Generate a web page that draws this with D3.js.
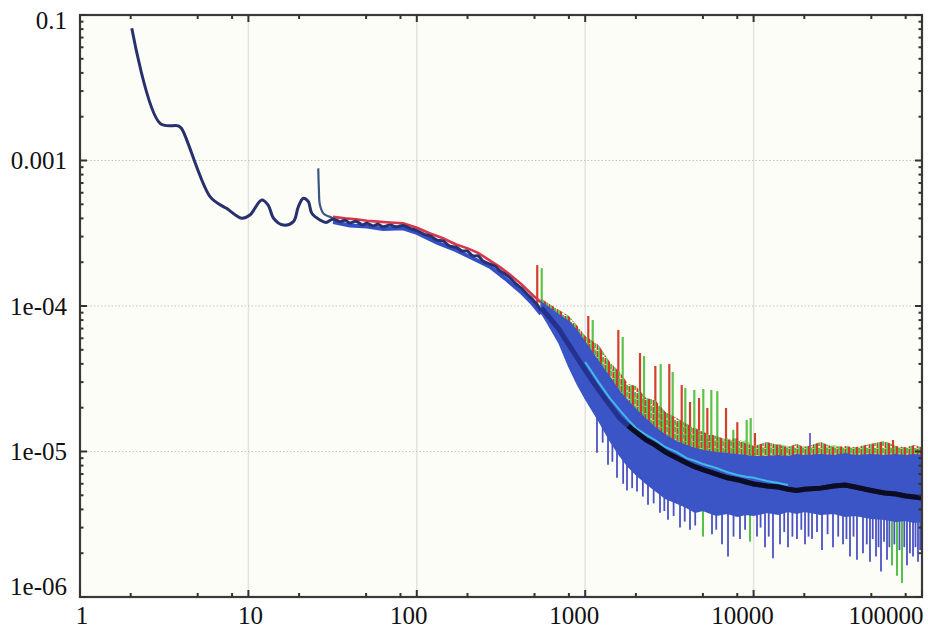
<!DOCTYPE html>
<html><head><meta charset="utf-8">
<script src="https://cdn.jsdelivr.net/npm/d3@7"></script>
<style>body{margin:0;background:#fff} text.lbl{font-family:"Liberation Serif","Times New Roman",Times,serif;font-size:25px;fill:#111}</style>
</head><body><svg id="chart" width="928" height="630"></svg>
<script>
// ---------------- DATA ----------------
const xTickValues = [1, 10, 100, 1000, 10000, 100000];
const xTickLabels = ["1", "10", "100", "1000", "10000", "100000"];
const yTickValues = [1e-2, 1e-3, 1e-4, 1e-5, 1e-6];
const yTickLabels = ["0.1", "0.001", "1e-04", "1e-05", "1e-06"];

// main low-frequency trace
const lowFreq = [2.03,2.99,3.83,4.01,5.92,7.10,7.43,9.12,10.2,12.0,13.1,14.1,16.1,18.5,19.8,21.2,22.7,23.8,26.6,28.9,31.8,35.0,37.5,40.1,43.6,47.3,50.6,55.0,58.8,63.0,69.3,75.2,82.8,91.1,100,110,120,132,143,157,171,186,199,216,231,247,272,291,312,334,358,388,416,451,490,525,560];
const lowVal = [8.1e-3,1.80e-3,1.73e-3,1.66e-3,5.64e-4,4.82e-4,4.69e-4,4.01e-4,4.22e-4,5.35e-4,4.94e-4,4.01e-4,3.60e-4,3.80e-4,4.82e-4,5.50e-4,5.21e-4,4.34e-4,3.90e-4,3.75e-4,3.95e-4,3.80e-4,3.88e-4,3.72e-4,3.82e-4,3.62e-4,3.70e-4,3.55e-4,3.65e-4,3.50e-4,3.60e-4,3.50e-4,3.58e-4,3.42e-4,3.30e-4,3.12e-4,3.03e-4,2.84e-4,2.80e-4,2.58e-4,2.54e-4,2.39e-4,2.39e-4,2.21e-4,2.21e-4,2.04e-4,1.94e-4,1.88e-4,1.74e-4,1.66e-4,1.56e-4,1.42e-4,1.33e-4,1.21e-4,1.10e-4,1.00e-4,8.8e-5];

// red trace (low part)
const redLowFreq = [31.8,37.5,43.6,50.6,58.8,69.3,82.8,100.3,120,143,171,199,231,272,312,358,416,490,546];
const redLowVal = [4.1e-4,4.0e-4,3.95e-4,3.85e-4,3.8e-4,3.75e-4,3.7e-4,3.45e-4,3.15e-4,2.92e-4,2.65e-4,2.5e-4,2.32e-4,2.05e-4,1.85e-4,1.64e-4,1.42e-4,1.18e-4,1.06e-4];

// blue trace (low part)
const blueLowFreq = [31.8,40.1,50.6,63.0,82.8,100.3,132,171,216,272,334,416,490,546];
const blueLowVal = [3.78e-4,3.58e-4,3.52e-4,3.38e-4,3.42e-4,3.18e-4,2.72e-4,2.42e-4,2.12e-4,1.86e-4,1.55e-4,1.25e-4,1.03e-4,8.8e-5];

// spur trace starting near 26
const spurFreq = [26.0,26.2,26.6,28.0,30.5,33];
const spurVal = [8.83e-4,6.5e-4,4.94e-4,4.3e-4,4.1e-4,3.9e-4];

// high-frequency noise band
const bandFreq = [550,600,700,800,900,1000,1200,1400,1600,1800,2000,2300,2600,3000,3500,4000,4500,5000,6000,7000,8000,9000,10000,12000,14000,16000,18000,20000,25000,30000,35000,40000,50000,60000,70000,80000,90000,100000];
const bandUpper = [1.05e-4,9.8e-5,8.6e-5,7.76e-5,6.63e-5,5.57e-5,4.12e-5,3.20e-5,2.56e-5,2.19e-5,1.93e-5,1.65e-5,1.45e-5,1.28e-5,1.16e-5,1.09e-5,1.04e-5,1.01e-5,9.76e-6,9.61e-6,9.46e-6,9.31e-6,9.17e-6,9.17e-6,9.31e-6,9.17e-6,9.46e-6,9.31e-6,9.46e-6,9.31e-6,9.61e-6,9.31e-6,9.46e-6,9.31e-6,9.46e-6,9.31e-6,9.46e-6,9.31e-6];
const bandLower = [9.0e-5,7.6e-5,5.6e-5,3.87e-5,2.91e-5,2.33e-5,1.65e-5,1.20e-5,9.46e-6,7.95e-6,7.00e-6,6.07e-6,5.44e-6,4.79e-6,4.43e-6,4.15e-6,3.84e-6,3.96e-6,3.66e-6,3.78e-6,3.60e-6,3.72e-6,3.66e-6,3.84e-6,3.72e-6,3.90e-6,3.78e-6,3.90e-6,3.72e-6,3.78e-6,3.60e-6,3.66e-6,3.49e-6,3.44e-6,3.33e-6,3.38e-6,3.28e-6,3.33e-6];
const bandMean = [9.7e-5,8.6e-5,6.9e-5,5.40e-5,4.39e-5,3.63e-5,2.65e-5,2.09e-5,1.70e-5,1.50e-5,1.36e-5,1.20e-5,1.11e-5,9.9e-6,9.02e-6,8.34e-6,7.83e-6,7.5e-6,7.0e-6,6.6e-6,6.4e-6,6.17e-6,5.98e-6,5.8e-6,5.7e-6,5.5e-6,5.4e-6,5.5e-6,5.6e-6,5.8e-6,5.89e-6,5.7e-6,5.4e-6,5.19e-6,5.1e-6,4.94e-6,4.86e-6,4.79e-6];
const redTop = [1.12e-4,1.05e-4,9.4e-5,8.54e-5,7.29e-5,6.22e-5,5.40e-5,4.12e-5,3.52e-5,2.91e-5,2.82e-5,2.33e-5,2.26e-5,1.87e-5,1.70e-5,1.55e-5,1.45e-5,1.36e-5,1.28e-5,1.20e-5,1.24e-5,1.13e-5,1.09e-5,1.16e-5,1.11e-5,1.07e-5,1.13e-5,1.07e-5,1.16e-5,1.07e-5,1.09e-5,1.07e-5,1.13e-5,1.18e-5,1.09e-5,1.07e-5,1.11e-5,1.07e-5];
const greenTop = [1.09e-4,1.02e-4,9.1e-5,8.14e-5,6.95e-5,5.84e-5,4.83e-5,3.87e-5,3.20e-5,2.82e-5,2.48e-5,2.26e-5,1.99e-5,1.81e-5,1.59e-5,1.55e-5,1.41e-5,1.36e-5,1.20e-5,1.24e-5,1.14e-5,1.20e-5,1.09e-5,1.07e-5,1.13e-5,1.09e-5,1.06e-5,1.09e-5,1.06e-5,1.11e-5,1.06e-5,1.07e-5,1.06e-5,1.06e-5,1.07e-5,1.06e-5,1.06e-5,1.04e-5];

// cyan trace
const cyanFreq = [1000,1200,1400,1600,1800,2000,2300,2600,3000,3500,4000,4500,5000,6000,7000,8000,9000,10000,12000,14000,16000];
const cyanVal = [4.12e-5,3.00e-5,2.33e-5,1.93e-5,1.65e-5,1.45e-5,1.30e-5,1.20e-5,1.07e-5,9.9e-6,9.0e-6,8.6e-6,8.2e-6,7.7e-6,7.2e-6,6.9e-6,6.7e-6,6.6e-6,6.27e-6,6.07e-6,5.89e-6];

// harmonic spikes
const redSpikeFreq = [519,1043,1573,2116,2609,3158,3742,4192,4741,5311,6858,8003,10190,14349,67270];
const redSpikeTop = [1.91e-4,8.54e-5,6.84e-5,4.75e-5,3.87e-5,3.99e-5,2.86e-5,2.19e-5,2.33e-5,1.99e-5,1.99e-5,1.59e-5,1.34e-5,1.11e-5,1.20e-5];
const greenSpikeFreq = [552,1108,1670,2235,2807,3308,3931,4446,5028,5609,6087,7576,9100,9612];
const greenSpikeTop = [1.82e-4,8.01e-5,6.12e-5,4.53e-5,3.99e-5,3.52e-5,2.73e-5,2.65e-5,2.69e-5,2.65e-5,2.60e-5,1.41e-5,1.65e-5,1.70e-5];
const blueSpikeFreq = [21620];
const blueSpikeTop = [1.34e-5];

// downward dips [frequency, lowest value]
const blueDips = [[1175,9.8e-6],[1270,1.15e-5],[1366,8.1e-6],[1450,8.5e-6],[1545,6.6e-6],[1680,6.0e-6],[1771,5.4e-6],[1900,5.6e-6],[2031,5.3e-6],[2200,4.9e-6],[2360,4.3e-6],[2550,4.4e-6],[2781,3.8e-6],[2950,3.9e-6],[3102,3.4e-6],[3350,3.6e-6],[3656,3.0e-6],[3900,3.3e-6],[4192,2.9e-6],[4500,3.1e-6],[5662,2.7e-6],[6000,2.9e-6],[6494,2.3e-6],[7047,1.9e-6],[7600,2.6e-6],[8301,2.5e-6],[8900,2.9e-6],[10476,2.6e-6],[11000,3.0e-6],[11688,2.2e-6],[12300,2.6e-6],[13036,1.85e-6],[14349,2.3e-6],[15200,2.8e-6],[16006,2.2e-6],[17000,2.6e-6],[18096,2.5e-6],[19200,2.9e-6],[20196,2.3e-6],[21200,2.6e-6],[22228,2.5e-6],[23800,2.8e-6],[25484,2.1e-6],[27500,2.7e-6],[29612,2.2e-6],[31800,2.6e-6],[33958,2.3e-6],[35600,2.5e-6],[37360,1.9e-6],[39200,2.6e-6],[41112,1.8e-6],[44620,2.0e-6],[47000,2.3e-6],[49110,1.75e-6],[51000,2.5e-6],[53320,1.9e-6],[55200,2.2e-6],[57090,1.5e-6],[59500,2.4e-6],[61970,1.8e-6],[64000,2.2e-6],[68500,2.3e-6],[73500,2.1e-6],[78500,2.2e-6],[81440,1.65e-6],[84800,2.0e-6],[88430,1.9e-6],[91500,2.2e-6],[94670,1.75e-6],[97500,2.1e-6]];
const greenDips = [[5007,2.6e-6],[9520,2.4e-6],[66360,1.65e-6],[71050,1.4e-6],[76070,1.25e-6]];

// ---------------- LAYOUT ----------------
const W = 928, H = 630;
const M = {left: 80, top: 15, right: 6, bottom: 33};
const svg = d3.select("#chart");
const x = d3.scaleLog().domain([1, 1e5]).range([M.left, W - M.right]);
const y = d3.scaleLog().domain([1e-6, 1e-2]).range([H - M.bottom, M.top]);
const x0 = x.range()[0], x1 = x.range()[1], y0 = y.range()[0], y1 = y.range()[1];

const defs = svg.append("defs");
defs.append("clipPath").attr("id", "clip").append("rect")
  .attr("x", x0).attr("y", y1).attr("width", x1 - x0).attr("height", y0 - y1);
// speckled red/green texture for the noise fuzz above the band
const pat = defs.append("pattern").attr("id", "fuzz").attr("patternUnits", "userSpaceOnUse")
  .attr("width", 8).attr("height", 7);
pat.append("rect").attr("x", 0).attr("width", 2.2).attr("height", 7).attr("fill", "#d4362a");
pat.append("rect").attr("x", 2.2).attr("width", 1.8).attr("height", 5).attr("fill", "#4cbd42");
pat.append("rect").attr("x", 4.6).attr("y", 1).attr("width", 1.8).attr("height", 6).attr("fill", "#cc3a2c");
pat.append("rect").attr("x", 6.4).attr("width", 1.6).attr("height", 7).attr("fill", "#58c24c");

svg.append("rect").attr("x", x0).attr("y", y1).attr("width", x1 - x0).attr("height", y0 - y1).attr("fill", "#fdfdf8");

// grid
const gridX = [10, 100, 1000, 10000];
const gridY = [1e-3, 1e-4, 1e-5];
svg.append("g").selectAll("line").data(gridX).join("line")
  .attr("x1", d => x(d)).attr("x2", d => x(d)).attr("y1", y1).attr("y2", y0)
  .attr("stroke", "#e2e2e0").attr("stroke-width", 1.5);
svg.append("g").selectAll("line").data(gridY).join("line")
  .attr("x1", x0).attr("x2", x1).attr("y1", d => y(d)).attr("y2", d => y(d))
  .attr("stroke", "#c4c4c4").attr("stroke-width", 1.2).attr("stroke-dasharray", "1.5,2");

const plot = svg.append("g").attr("clip-path", "url(#clip)");

function pts(fs, vs) { return fs.map((f, i) => [f, vs[i]]); }
const line = d3.line().x(d => x(d[0])).y(d => y(d[1]));
const smooth = d3.line().x(d => x(d[0])).y(d => y(d[1])).curve(d3.curveCatmullRom.alpha(0.5));

function interpLog(fs, vs, f) {
  const lf = Math.log10(f);
  for (let i = 0; i < fs.length - 1; i++) {
    const a = Math.log10(fs[i]), b = Math.log10(fs[i + 1]);
    if (lf >= a && lf <= b) {
      const t = (lf - a) / (b - a);
      return Math.pow(10, Math.log10(vs[i]) * (1 - t) + Math.log10(vs[i + 1]) * t);
    }
  }
  return lf < Math.log10(fs[0]) ? vs[0] : vs[vs.length - 1];
}

// spikes (under band)
function spikes(fs, tops, color, w) {
  plot.append("g").selectAll("line").data(fs).join("line")
    .attr("x1", d => x(d)).attr("x2", d => x(d))
    .attr("y1", (d, i) => y(tops[i]))
    .attr("y2", d => y(interpLog(bandFreq, bandMean, d)))
    .attr("stroke", color).attr("stroke-width", w);
}
spikes(redSpikeFreq, redSpikeTop, "#d2402c", 2.2);
spikes(greenSpikeFreq, greenSpikeTop, "#5cc24a", 2.2);
spikes(blueSpikeFreq, blueSpikeTop, "#7a6ad8", 2);

// dips
function dips(list, color, w) {
  plot.append("g").selectAll("line").data(list).join("line")
    .attr("x1", d => x(d[0])).attr("x2", d => x(d[0]))
    .attr("y1", d => y(d[1]))
    .attr("y2", d => y(interpLog(bandFreq, bandMean, d[0])))
    .attr("stroke", color).attr("stroke-width", w);
}
dips(greenDips, "#55c04a", 2);
dips(blueDips, "#4a52c4", 1.8);

// fuzz areas
const area = (top, bot) => d3.area().x(d => x(d)).y0((d, i) => y(bot[i])).y1((d, i) => y(top[i]));
plot.append("path").datum(bandFreq).attr("d", area(greenTop, bandMean)).attr("fill", "#52bf46").attr("opacity", 0.55);
plot.append("path").datum(bandFreq).attr("d", area(redTop, bandMean)).attr("fill", "url(#fuzz)");

// low traces
plot.append("path").datum(pts(blueLowFreq, blueLowVal)).attr("d", line)
  .attr("fill", "none").attr("stroke", "#3450c8").attr("stroke-width", 4);
plot.append("path").datum(pts(redLowFreq, redLowVal)).attr("d", line)
  .attr("fill", "none").attr("stroke", "#d8364a").attr("stroke-width", 2.6);
plot.append("path").datum(pts(spurFreq, spurVal)).attr("d", smooth)
  .attr("fill", "none").attr("stroke", "#3d5585").attr("stroke-width", 2.2);
plot.append("path").datum(pts(lowFreq, lowVal)).attr("d", smooth)
  .attr("fill", "none").attr("stroke", "#28306e").attr("stroke-width", 3);

// band
plot.append("path").datum(bandFreq).attr("d", area(bandUpper, bandLower))
  .attr("fill", "#3b55c6").attr("stroke", "#3b55c6").attr("stroke-width", 2);
plot.append("path").datum(pts(bandFreq, bandMean)).attr("d", line)
  .attr("fill", "none").attr("stroke", "#24318e").attr("stroke-width", 5);
plot.append("path").datum(pts(cyanFreq, cyanVal)).attr("d", line)
  .attr("fill", "none").attr("stroke", "#40b8e8").attr("stroke-width", 2);
plot.append("path").datum(pts(bandFreq.slice(9), bandMean.slice(9))).attr("d", line)
  .attr("fill", "none").attr("stroke", "#0c0c22").attr("stroke-width", 5);

// ---------------- AXES ----------------
const frame = svg.append("g");
frame.append("rect").attr("x", x0).attr("y", y1).attr("width", x1 - x0).attr("height", y0 - y1)
  .attr("fill", "none").attr("stroke", "#3a3a3a").attr("stroke-width", 2.2);

const xMinor = [];
[1, 10, 100, 1000, 10000].forEach(d => [2, 5, 8].forEach(m => xMinor.push(d * m)));
const yMinor = [];
[1e-6, 1e-5, 1e-4, 1e-3].forEach(d => [2,3,4,5,6,7,8,9].forEach(m => yMinor.push(d * m)));

function xt(vals, len) {
  [y0, y1].forEach((yy, k) => {
    frame.append("g").selectAll("line").data(vals).join("line")
      .attr("x1", d => x(d)).attr("x2", d => x(d))
      .attr("y1", yy).attr("y2", k === 0 ? yy - len : yy + len)
      .attr("stroke", "#333").attr("stroke-width", 2);
  });
}
function yt(vals, len) {
  [x0, x1].forEach((xx, k) => {
    frame.append("g").selectAll("line").data(vals).join("line")
      .attr("y1", d => y(d)).attr("y2", d => y(d))
      .attr("x1", xx).attr("x2", k === 0 ? xx + len : xx - len)
      .attr("stroke", "#333").attr("stroke-width", 2);
  });
}
xt(xTickValues, 7); xt(xMinor, 4);
yt(yTickValues, 7); yt(yMinor, 3.5);

const xLabelDx = [2, 2, -8, -11, -11, -36];
frame.append("g").selectAll("text").data(xTickValues).join("text")
  .attr("class", "lbl")
  .attr("x", (d, i) => x(d) + xLabelDx[i]).attr("y", 624)
  .attr("text-anchor", "middle")
  .text((d, i) => xTickLabels[i]);

const yLabelDy = [5, 0, 0, 0, -11];
frame.append("g").selectAll("text").data(yTickValues).join("text")
  .attr("class", "lbl")
  .attr("x", 67).attr("y", (d, i) => y(d) + yLabelDy[i]).attr("dy", "0.35em")
  .attr("text-anchor", "end")
  .text((d, i) => yTickLabels[i]);
</script>
</body></html>
